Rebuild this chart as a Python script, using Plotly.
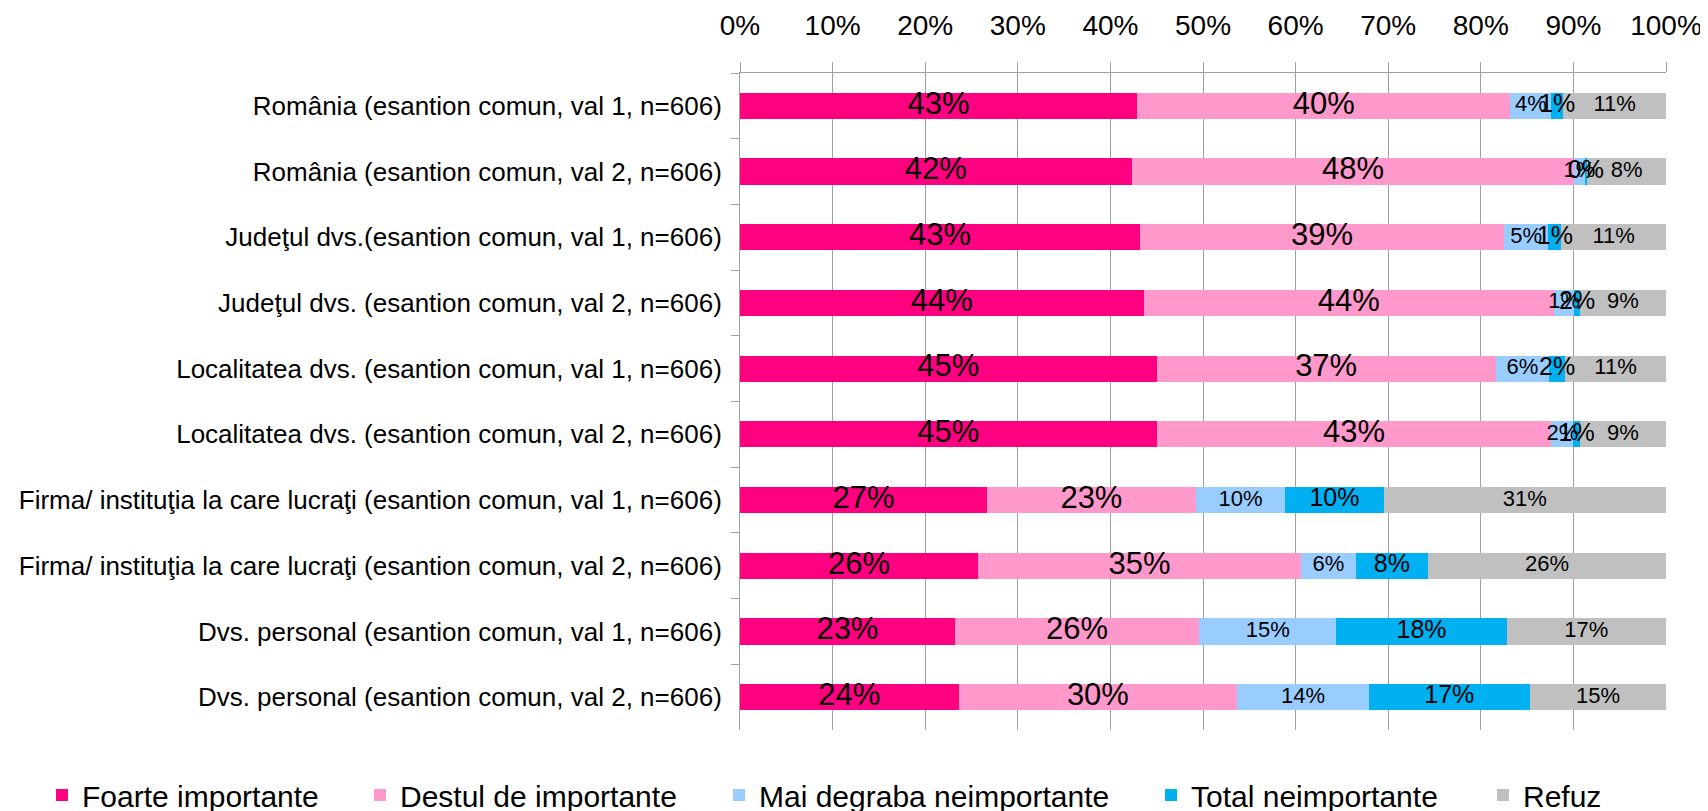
import plotly.graph_objects as go

categories = [
    "România (esantion comun, val 1, n=606)",
    "România (esantion comun, val 2, n=606)",
    "Judeţul dvs.(esantion comun, val 1, n=606)",
    "Judeţul dvs. (esantion comun, val 2, n=606)",
    "Localitatea dvs. (esantion comun, val 1, n=606)",
    "Localitatea dvs. (esantion comun, val 2, n=606)",
    "Firma/ instituţia la care lucraţi (esantion comun, val 1, n=606)",
    "Firma/ instituţia la care lucraţi (esantion comun, val 2, n=606)",
    "Dvs. personal (esantion comun, val 1, n=606)",
    "Dvs. personal (esantion comun, val 2, n=606)",
]

series_names = ["Foarte importante", "Destul de importante", "Mai degraba neimportante",
                "Total neimportante", "Refuz"]

foarte = [42.9, 42.3, 43.2, 43.6, 45.0, 45.0, 26.7, 25.7, 23.2, 23.6]
destul = [40.3, 47.8, 39.3, 44.3, 36.6, 42.6, 22.5, 34.9, 26.4, 30.1]
mai_degraba = [4.4, 1.1, 4.8, 2.2, 5.8, 2.4, 9.7, 5.9, 14.8, 14.2]
total = [1.3, 0.3, 1.4, 0.6, 1.7, 0.7, 10.6, 7.8, 18.4, 17.4]
refuz = [11.1, 8.5, 11.3, 9.3, 10.9, 9.3, 30.5, 25.7, 17.2, 14.7]

labels_foarte = ["43%", "42%", "43%", "44%", "45%", "45%", "27%", "26%", "23%", "24%"]
labels_destul = ["40%", "48%", "39%", "44%", "37%", "43%", "23%", "35%", "26%", "30%"]
labels_mai = ["4%", "1%", "5%", "1%", "6%", "2%", "10%", "6%", "15%", "14%"]
labels_total = ["1%", "0%", "1%", "2%", "2%", "1%", "10%", "8%", "18%", "17%"]
labels_refuz = ["11%", "8%", "11%", "9%", "11%", "9%", "31%", "26%", "17%", "15%"]

x_tick_values = [0, 10, 20, 30, 40, 50, 60, 70, 80, 90, 100]
x_tick_labels = ["0%", "10%", "20%", "30%", "40%", "50%", "60%", "70%", "80%", "90%", "100%"]

values = [foarte, destul, mai_degraba, total, refuz]
labels = [labels_foarte, labels_destul, labels_mai, labels_total, labels_refuz]
colors = ["#FF0080", "#FF99CC", "#99CCFF", "#00B0F0", "#C0C0C0"]
label_sizes = [31, 31, 22, 25, 22]

FONT = "Liberation Sans, Arial, sans-serif"
# the page adds an 8px body margin, so the figure is 8px smaller than the window
W, H = 1700, 803

fig = go.Figure()

# legend text start positions (figure px)
legend_text_px = [74, 392, 751, 1183, 1515]

cum = [0.0] * len(categories)
for i, (name, vals, col) in enumerate(zip(series_names, values, colors)):
    fig.add_trace(go.Bar(
        name=name, y=categories, x=vals, base=cum[:], orientation="h",
        marker=dict(color=col, line=dict(width=0)),
        legend="legend" if i == 0 else f"legend{i+1}",
        hoverinfo="x+name",
    ))
    mids = [c + v / 2 for c, v in zip(cum, vals)]
    fig.add_trace(go.Scatter(
        x=mids, y=categories, mode="text", text=labels[i],
        textposition="middle center",
        textfont=dict(family=FONT, size=label_sizes[i], color="black"),
        showlegend=False, hoverinfo="skip", cliponaxis=False,
    ))
    cum = [c + v for c, v in zip(cum, vals)]

layout_legends = {}
for i, px in enumerate(legend_text_px):
    key = "legend" if i == 0 else f"legend{i+1}"
    layout_legends[key] = dict(
        orientation="h", xref="container", yref="container",
        x=(px - 40) / W, xanchor="left",
        y=1 - 787 / H, yanchor="middle",
        font=dict(family=FONT, size=30, color="black"),
        bgcolor="rgba(0,0,0,0)", borderwidth=0,
        itemclick=False, itemdoubleclick=False,
    )

grid_col = "#A0A0A0"
fig.update_layout(
    width=W, height=H,
    margin=dict(l=732, r=42, t=65, b=81, autoexpand=False),
    paper_bgcolor="white", plot_bgcolor="white",
    barmode="stack", bargap=0.6,
    font=dict(family=FONT, color="black"),
    xaxis=dict(
        side="top", range=[0, 100],
        tickmode="array", tickvals=x_tick_values, ticktext=x_tick_labels,
        showgrid=True, gridcolor=grid_col, gridwidth=1,
        showline=True, linecolor=grid_col, linewidth=1,
        ticks="outside", ticklen=10, tickcolor=grid_col,
        tickfont=dict(family=FONT, size=28, color="black"),
        ticklabelstandoff=16, zeroline=False, fixedrange=True,
    ),
    yaxis=dict(
        categoryorder="array", categoryarray=categories,
        range=[len(categories) - 0.5, -0.5],
        showline=True, linecolor=grid_col, linewidth=1,
        ticks="outside", ticklen=8, tickcolor=grid_col, tickson="boundaries",
        showgrid=False,
        tickfont=dict(family=FONT, size=26, color="black"),
        ticklabelstandoff=12, fixedrange=True,
    ),
    showlegend=True,
    **layout_legends,
)

fig.write_html("out.html")
